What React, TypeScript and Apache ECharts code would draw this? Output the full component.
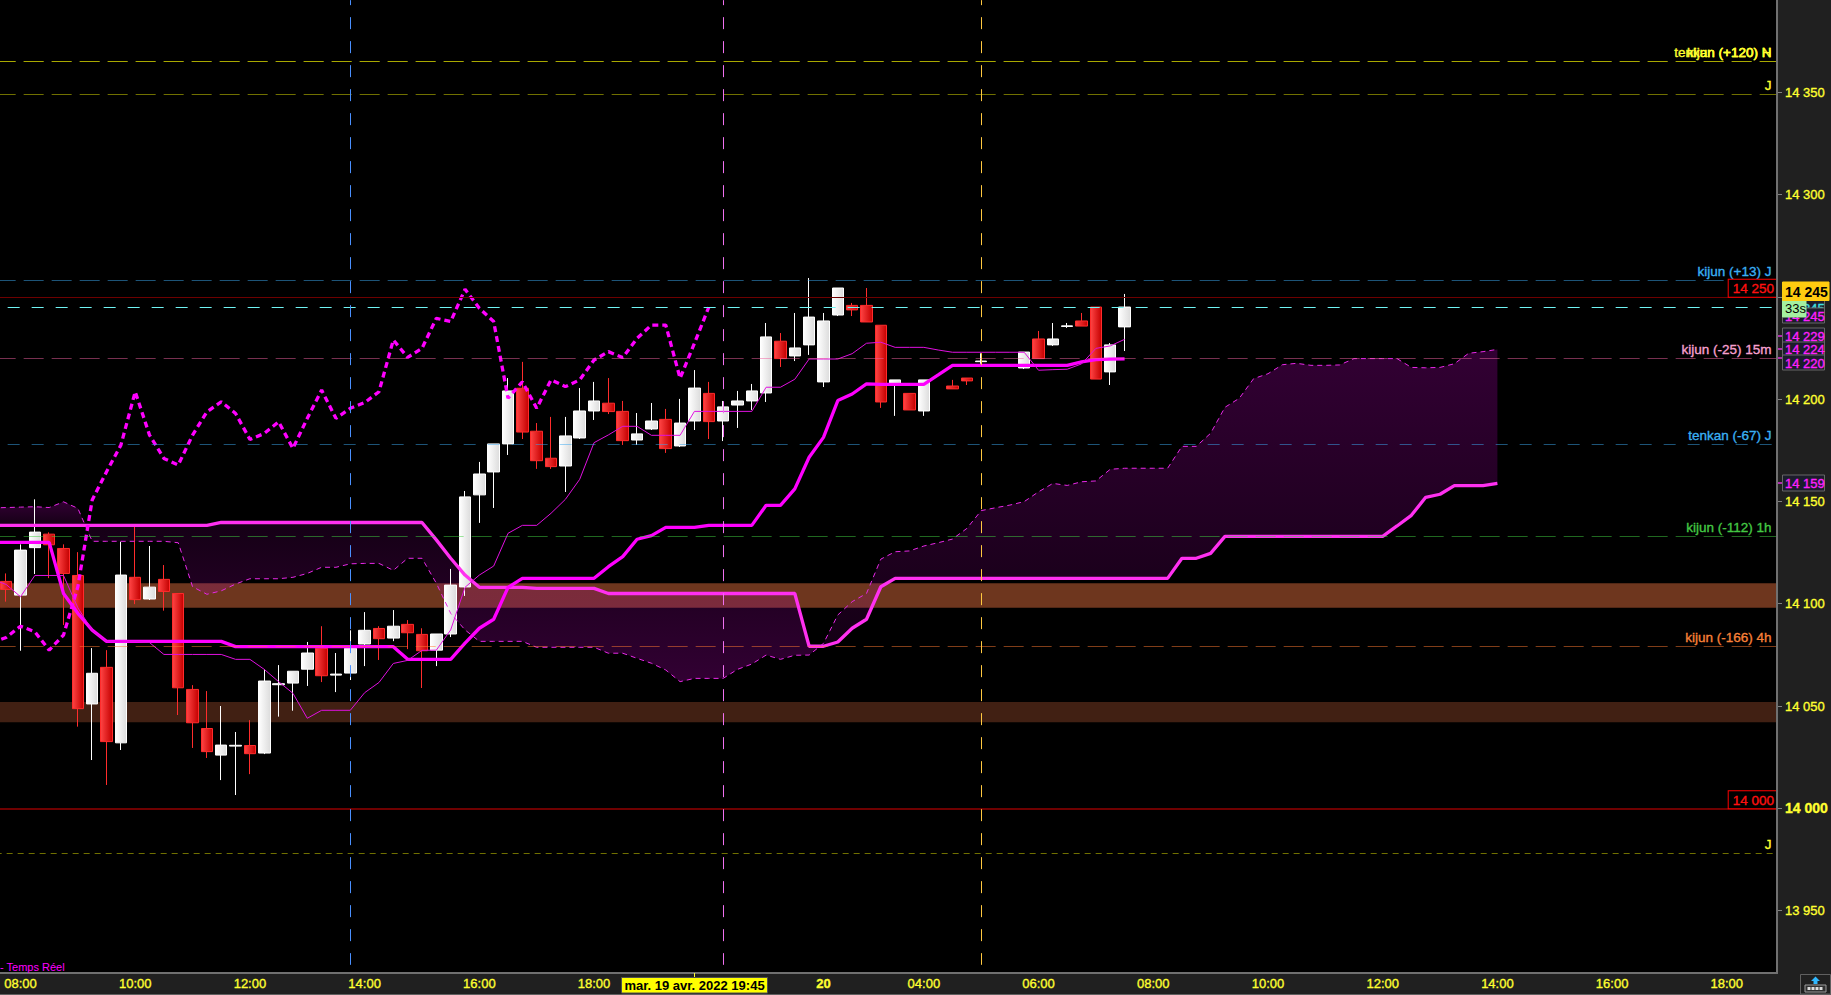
import React, { useEffect, useRef } from "react";
import * as echarts from "echarts";

const FONT = '"Liberation Sans", Arial, sans-serif';
const BAR_SLOTS = 125;
const SHIFT = 1; // one slot left of the window so that the lines run to the left edge
const PAGE_X = 16;

// axis tick labels by bar index (15-minute bars)
const tickBars = [1, 9, 17, 25, 33, 41, 49, 57, 64, 72, 80, 88, 96, 104, 112, 120];
const tickTexts = ["08:00", "10:00", "12:00", "14:00", "16:00", "18:00", "20:00", "20", "04:00", "06:00", "08:00", "10:00", "12:00", "14:00", "16:00", "18:00"];
const hiddenTickBar = 49;
const priceTicks = [13950, 14000, 14050, 14100, 14150, 14200, 14250, 14300, 14350];

const openValues = [14110.9,14104.2,14127.4,14134,14127,14113.8,14051,14068.9,14032,14112.9,14102.3,14111.9,14105,14058.1,14039,14026,14030.4,14030.7,14027,14060.4,14061.2,14068,14078.2,14065.1,14066.1,14080.3,14087.9,14083.2,14089.9,14085,14077.3,14085.2,14108.2,14153.2,14164.4,14178.1,14205.3,14184.3,14171.1,14167.3,14181,14194.2,14198,14194,14180,14185.4,14190.1,14177.1,14189.3,14202.8,14189.3,14197.1,14199.1,14203,14228.3,14221.1,14226.5,14208.4,14241.1,14245.8,14245.8,14236.1,14207.6,14202.8,14194.2,null,14206.4,14210.3,14218.3,null,null,14215.2,14229.4,14226.5,14235.5,14238.2,14245,14213.3,14235.3];
const closeValues = [14107,14126.2,14135,14128.8,14114.8,14048.7,14066,14032.6,14114,14102,14108.1,14106,14058.9,14041.8,14027.7,14030.9,14030.8,14026.7,14062.2,14060.9,14067,14075.9,14064.8,14065.6,14078.2,14087,14082.9,14089,14085.8,14077,14085.2,14109.1,14152.2,14163.4,14178.1,14204,14183.9,14169.9,14167,14182,14194.2,14199.1,14193.9,14179.7,14183,14189.3,14175.8,14188.3,14205.4,14189,14196.2,14199.1,14204,14230.4,14219.8,14225,14240.1,14238.2,14254.3,14243.6,14237.7,14198.6,14209.4,14194.7,14209.4,null,14205,14208.9,14218.6,null,null,14223,14219.8,14229.4,14235.8,14235.7,14209.8,14226.5,14245];
const lowValues = [14101,14077,14114.5,14112.5,14089.6,14039.9,14023.6,14011.4,14028.5,14099.8,14101.8,14096.6,14045.6,14029.5,14024.6,14013.8,14006.5,14016.7,14026.5,14044.8,14047.7,14059.8,14061.7,14056.8,14062.7,14069.5,14072.5,14081.7,14077.8,14058.8,14069.5,14083.7,14103.8,14139.5,14146.8,14172.7,14180.5,14165.9,14165.9,14154.6,14180.5,14189.8,14192.7,14177.6,14177.6,14184.9,14173.7,14176.6,14184.9,14180.5,14179.5,14185.9,14194.7,14198.6,14215.7,14218.6,14221.6,14205.9,14240.6,14240.6,14237.7,14195.7,14191.8,14194.7,14191.8,null,14205,14206.9,14217.2,null,null,14214.7,14219.8,14226,14234.8,14235.7,14209.8,14206.9,14223.5];
const highValues = [14114.8,14129,14151,14134.9,14129,14125.2,14078.3,14077.3,14130.3,14137.6,14128.2,14118.9,14105,14060.2,14057.3,14050,14037.3,14043.1,14067.9,14070,14067,14081.3,14089,14075.9,14087,14095.9,14089,14096.9,14092,14088,14085.2,14117,14155.1,14169.3,14178.1,14210.3,14218.2,14188.3,14191.3,14191.3,14205.4,14208.4,14210.3,14199.1,14193.2,14198.1,14195.2,14200.1,14214.2,14208.4,14199.1,14204,14207.4,14237.2,14232.3,14242.1,14259.2,14242.1,14254.3,14247,14254.3,14236.1,14209.4,14202.8,14209.4,null,14209.4,14210.3,14222.4,null,null,14223,14233.3,14237.2,14237.2,14242.1,14245,14227.4,14251.4];

const tenkanValues = [14112,14109.4,14103.4,14113.8,14113.8,14113.8,14098,14087,14081.6,14081.6,14081.6,14081,14075.2,14075.2,14075.2,14075.2,14075.2,14072.8,14072.8,14067.9,14061.9,14056.2,14044,14047.9,14047.9,14047.9,14056.5,14061.5,14070.8,14072.3,14077.2,14077.3,14087.2,14108,14114,14118.4,14134.4,14138.3,14138.3,14144.2,14151,14160.8,14178.7,14182.5,14186.7,14186.7,14182.3,14182.3,14182.3,14194,14194,14194,14194,14194,14205.8,14205.8,14209.7,14219.6,14219.6,14219.6,14222.2,14227.3,14227.8,14225.3,14225.3,14225.3,14224,14222.9,14222.9,14222.9,14222.9,14222.9,14222.9,14214.1,14214.4,14214.6,14217.2,14224.8,14226,14229.2];
const kijunValues = [14130,14130,14130,14130,14130,14105,14095.3,14087.1,14081.6,14081.6,14081.6,14081.6,14081.6,14081.6,14081.6,14081.6,14081.6,14079,14079,14079,14079,14079,14079,14079,14079,14079,14079,14079,14079,14072.8,14072.8,14072.8,14072.8,14080.7,14088,14092.4,14108,14112.4,14112.4,14112.4,14112.4,14112.4,14112.4,14118.1,14123,14131.5,14133.3,14137.3,14137.3,14137.3,14138.3,14138.3,14138.3,14138.3,14148.1,14148.1,14156.1,14171.6,14181.3,14199.3,14202.5,14207.4,14207.2,14207.2,14207.2,14207.2,14211.8,14216.5,14216.5,14216.5,14216.5,14216.5,14216.5,14216.5,14216.5,14216.5,14218.2,14219.3,14219.5,14219.7];
const chikouValues = [14081,14083.5,14089,14086.3,14077.3,14084.7,14108.3,14150.7,14164.5,14177.5,14203.6,14182.4,14171,14167.8,14182.4,14193.8,14198.7,14193,14180.3,14183.2,14188.9,14175.9,14190.6,14204.4,14190.6,14195.5,14198.3,14203.6,14228.9,14220.4,14224.8,14239.5,14237.9,14253.7,14244.4,14237.9,14200.4,14208.5,14195.5,14209.4,14206.1,14209.4,14219.1,14223.2,14220.3,14229.7,14236.2,14236.2,14210.2,14227.3,14244.9];
const senkouAValues = [14146.8,14147,14147.2,14147.4,14147,14149.8,14146.6,14130.5,14130.5,14130.5,14130.5,14130.5,14130.5,14129.8,14108.3,14104.6,14106.3,14109.6,14112.2,14112.2,14112.2,14112.9,14114.8,14117.8,14117.8,14119.5,14119.7,14119.7,14116.3,14122.2,14122.2,14110,14095.3,14087.2,14081.6,14081.6,14081.6,14081.6,14078.7,14078.7,14078.7,14078.7,14078.7,14075.8,14075.8,14073.3,14070.9,14067.6,14061.9,14063.5,14063.5,14063.5,14067.9,14070.5,14074.9,14072.8,14074.8,14074.9,14080.6,14094.5,14101,14105,14121.8,14125.4,14125.8,14128.2,14129.8,14131.6,14136.8,14145.5,14146.9,14148.2,14149.9,14154.7,14158.8,14157.8,14159.6,14160,14165.7,14166.2,14166.2,14166.2,14166.2,14176.9,14176.9,14183.3,14196,14200.4,14210,14212.4,14216.8,14217.5,14216.5,14216.5,14216.7,14219.8,14219.8,14219.8,14219.8,14215.5,14215.3,14215.5,14217.3,14222.4,14223.2,14224.3];
const senkouBValues = [14138.3,14138.3,14138.3,14138.3,14138.3,14138.3,14138.3,14138.3,14138.3,14138.3,14138.3,14138.3,14138.3,14138.3,14138.3,14138.3,14139.7,14139.7,14139.7,14139.7,14139.7,14139.7,14139.7,14139.7,14139.7,14139.7,14139.7,14139.7,14139.7,14139.7,14139.7,14131.2,14122.2,14114,14108,14108,14108,14108,14107.5,14107.5,14107.5,14107.5,14107.5,14105,14105,14105,14105,14105,14105,14105,14105,14105,14105,14105,14105,14105,14105,14079.2,14079.2,14081.3,14088,14092.4,14108.3,14112.4,14112.4,14112.4,14112.4,14112.4,14112.4,14112.4,14112.4,14112.4,14112.4,14112.4,14112.4,14112.4,14112.4,14112.4,14112.4,14112.4,14112.4,14112.4,14112.4,14122.2,14122.2,14124.6,14132.9,14132.9,14132.9,14132.9,14132.9,14132.9,14132.9,14132.9,14132.9,14132.9,14132.9,14132.9,14138,14143.2,14152,14153.5,14157.7,14157.7,14157.7,14158.8];

const levelValues = [14365, 14365, 14349, 14258, 14250, 14245, 14220, 14178, 14133, 14079, 14000, 13978];
const levelLabels = ["tenkan (+120) H", "kijun (+120) N", "J", "kijun (+13) J", "14 250", "", "kijun (-25) 15m", "tenkan (-67) J", "kijun (-112) 1h", "kijun (-166) 4h", "14 000", "J"];
const bandRanges = [[14110, 14098], [14052, 14042]];
const crosshairBars = [24, 50, 68];
const tagTexts = ["14 245", "14 245", "14 229", "14 224", "14 220", "14 159"];
const lastPrice = "14 245";
const countdown = "33s";
const cursorDate = "mar. 19 avr. 2022 19:45";
const feedLabel = "- Temps Réel";

const categories = Array.from({ length: BAR_SLOTS }, (_, slot) => {
  const t = tickBars.indexOf(slot - SHIFT);
  return t >= 0 ? tickTexts[t] : String(slot - SHIFT);
});
const candleData = ["-", ...openValues.map((o, i) =>
  o === null ? "-" : [o, closeValues[i], lowValues[i], highValues[i]]
)];

const LONG = { d: [20, 8], off: 16.66 };
const SHORT = { d: [12, 12], off: 0.66 };
const levelStyles = [
  { c: "#e0e000", ...LONG, lc: "#ffff30", o: 0.5 },
  { c: "#e0e000", ...LONG, lc: "#ffff30", o: 0.5 },
  { c: "#e0e000", ...LONG, lc: "#ffff30", o: 0.5 },
  { c: "#3aa8f0", ...LONG, lc: "#3ab0f4", o: 0.5 },
  { c: "#6e0000", d: "solid", lc: "#ff1010", box: true, o: 1, w: 1 },
  { c: "#70f4f4", ...SHORT, lc: "#90ffff", o: 1 },
  { c: "#f060a0", ...LONG, lc: "#f8a0d0", o: 0.5 },
  { c: "#3aa8f0", ...SHORT, lc: "#3ab0f4", o: 0.5 },
  { c: "#40d040", ...LONG, lc: "#44c844", o: 0.5 },
  { c: "#ff7a30", ...LONG, lc: "#f88038", o: 0.5 },
  { c: "#6e0000", d: "solid", lc: "#ff1010", box: true, w: 2, o: 1 },
  { c: "#e0e000", d: [6, 5], off: 0, lc: "#ffff30", o: 0.5 },
];
const crossColors = ["#4a90ff", "#f070f0", "#ffc840"];

function cloudItem(params: any, api: any) {
  const pts = (vals: number[]) => vals.map((v, i) => api.coord([i, v]));
  const pa = pts(senkouAValues);
  const pb = pts(senkouBValues);
  const diff = senkouAValues.map((a, i) => a - senkouBValues[i]);
  const mix = (p: number[], q: number[], t: number) => [p[0] + (q[0] - p[0]) * t, p[1] + (q[1] - p[1]) * t];
  const pieces: { pts: number[][]; aTop: boolean }[] = [];
  let upper: number[][] = [pa[0]];
  let lower: number[][] = [pb[0]];
  for (let i = 1; i < diff.length; i++) {
    if (diff[i - 1] * diff[i] < 0) {
      const t = diff[i - 1] / (diff[i - 1] - diff[i]);
      const x = mix(pa[i - 1], pa[i], t);
      upper.push(x);
      pieces.push({ pts: upper.concat(lower.slice().reverse()), aTop: diff[i - 1] > 0 });
      upper = [x];
      lower = [];
    }
    upper.push(pa[i]);
    lower.push(pb[i]);
  }
  pieces.push({ pts: upper.concat(lower.slice().reverse()), aTop: diff[diff.length - 1] > 0 });
  const piece = pieces[params.dataIndex];
  if (!piece) return null;
  const bright = "rgba(172,0,176,0.29)";
  const dark = "rgba(172,0,176,0.12)";
  return {
    type: "polygon",
    shape: { points: piece.pts },
    style: {
      fill: new echarts.graphic.LinearGradient(0, 0, 0, 1, [
        { offset: 0, color: piece.aTop ? bright : dark },
        { offset: 1, color: piece.aTop ? dark : bright },
      ]),
    },
  };
}

function buildOption() {
  const tagLayout = [
    { y: 300, h: 15, c: "#40e0e0" },
    { y: 308, h: 15, c: "#ff20ff" },
    { y: 328, h: 15, c: "#ff20ff" },
    { y: 342, h: 14, c: "#ff20ff" },
    { y: 355, h: 15, c: "#ff20ff" },
    { y: 475, h: 16, c: "#ff20ff" },
  ];
  const T = (x: number, y: number, text: string, fill: string, font: string, align = "left", z = 20, thick = 0) => ({
    type: "text", x, y, z, silent: true,
    style: { text, fill, font, textAlign: align, textVerticalAlign: "middle", ...(thick ? { stroke: fill, lineWidth: thick } : {}) },
  });
  const R = (x: number, y: number, width: number, height: number, fill: string, stroke?: string, z = 20) => ({
    type: "rect", z, silent: true, shape: { x, y, width, height },
    style: { fill, stroke: stroke ?? "none", lineWidth: 1 },
  });
  const L = (x1: number, y1: number, x2: number, y2: number, stroke: string, lineWidth = 1, z = 20) => ({
    type: "line", z, silent: true, shape: { x1, y1, x2, y2 }, style: { stroke, lineWidth },
  });
  const tagTicks = [336, 349, 358, 483];
  const graphicEls: any[] = [
    R(1777, 0, 54, 995, "#202020", undefined, 0),
    R(-16, 973, 1847, 41, "#202020", undefined, 0),
    L(1777, 0, 1777, 974, "#707070", 2, 11),
    L(0, 994.5, 1831, 994.5, "#606060", 1, 11),
    ...tagTicks.map((y) => L(1778, y, 1783, y, "#e030e0", 1.5, 21)),
    ...tagTexts.map((t, i) => ({
      type: "group",
      z: 20,
      children: [
        R(1782.5, tagLayout[i].y, 42, tagLayout[i].h, "#1c1c2c", "#666666", 21 + i),
        T(1785, tagLayout[i].y + tagLayout[i].h / 2 + 0.5, t, tagLayout[i].c, `13px ${FONT}`, "left", 21 + i, 0.35),
      ],
    })),
    R(1782.5, 300, 23.5, 17, "#a4f0a0", "#a4f0a0", 28),
    T(1785, 308.5, countdown, "#000000", `13px ${FONT}`, "left", 29),
    R(1782.5, 282, 46.5, 18.5, "#ffcc10", "#ffcc10", 30),
    T(1785, 291.5, lastPrice, "#000000", `bold 14px ${FONT}`, "left", 31),
    T(0, 967, feedLabel, "#ff00ff", `11px ${FONT}`),
    L(694.5, 973, 694.5, 978, "#ffff30", 1, 11),
    R(621.5, 977.5, 146, 15.5, "#ffff00", "#505050", 20),
    T(694.5, 985.5, cursorDate, "#000000", `bold 13px ${FONT}`, "center", 21),
    R(1800.5, 974.5, 30, 19.5, "#202020", "#606060", 20),
    { type: "polygon", z: 21, silent: true, shape: { points: [[1815.5, 976.5], [1820, 981], [1817.5, 981], [1817.5, 984], [1813.5, 984], [1813.5, 981], [1811, 981]] }, style: { fill: "#30b8ff" } },
    R(1805, 985, 21, 7, "#303030", "#9a9a9a", 21),
    ...[1807.5, 1811.5, 1815.5, 1819.5].map((x) => R(x, 987, 3, 3, "#dddddd", undefined, 22)),
  ];

  const hLines = levelValues.map((v, i) => {
    const s: any = levelStyles[i];
    return {
      yAxis: v,
      lineStyle: { color: s.c, type: s.d, dashOffset: s.off ?? 0, width: s.w ?? 1, opacity: s.o },
      label: levelLabels[i]
        ? {
            show: true,
            formatter: levelLabels[i],
            position: "insideEndTop",
            color: s.lc,
            opacity: 1,
            fontFamily: FONT,
            fontSize: 13.5,
            textBorderColor: s.lc,
            textBorderWidth: 0.35,
            distance: s.box ? [0, 0] : [5.5, 2],
            ...(s.box
              ? { backgroundColor: "#000000", borderColor: "#ff0000", borderWidth: 1, padding: [2, 3, 1, 4] }
              : {}),
          }
        : { show: false },
    };
  });
  const vLines = crosshairBars.map((b, i) => [
    { xAxis: b + SHIFT, yAxis: 14395, lineStyle: { color: crossColors[i], type: [12, 12], dashOffset: 7, width: 1, opacity: 1 }, label: { show: false } },
    { xAxis: b + SHIFT, yAxis: 13923.5 },
  ]);
  const tickSlots = tickBars.map((b) => b + SHIFT);

  return {
    animation: false,
    backgroundColor: "#000000",
    graphic: { elements: [{ type: "group", x: PAGE_X, y: 0, children: graphicEls }] },
    grid: { left: 0.66, width: 1792.34, top: 0, height: 1012.9, containLabel: false },
    xAxis: {
      type: "category",
      data: categories,
      boundaryGap: true,
      offset: -39.9,
      z: 10,
      axisLine: { onZero: false, lineStyle: { color: "#707070", width: 2 } },
      axisTick: {
        alignWithLabel: true,
        length: 3,
        interval: (i: number) => tickSlots.includes(i),
        lineStyle: { color: "#808080" },
      },
      axisLabel: {
        interval: (i: number) => tickSlots.includes(i) && i !== hiddenTickBar + SHIFT,
        color: "#ffff30",
        fontFamily: FONT,
        fontSize: 13,
        margin: 4,
        hideOverlap: false,
        textBorderColor: "#ffff30",
        textBorderWidth: 0.35,
        formatter: (v: string) => (v === "20" ? "{b|20}" : v),
        rich: { b: { fontFamily: FONT, fontSize: 13, fontWeight: "bold", color: "#ffff30" } },
      },
      splitLine: { show: false },
    },
    yAxis: {
      type: "value",
      position: "right",
      min: 13900,
      max: 14395.07,
      interval: 50,
      z: 10,
      axisLine: { show: false },
      axisTick: { show: true, length: 5, customValues: priceTicks, lineStyle: { color: "#808080" } },
      axisLabel: {
        customValues: priceTicks,
        color: "#ffff30",
        fontFamily: FONT,
        fontSize: 13,
        margin: 8,
        textBorderColor: "#ffff30",
        textBorderWidth: 0.35,
        formatter: (v: number) => {
          const s = String(v);
          const t = `${s.slice(0, 2)} ${s.slice(2)}`;
          return v === 14000 ? `{b|${t}}` : t;
        },
        rich: { b: { fontFamily: FONT, fontSize: 14, fontWeight: "bold", color: "#ffff30" } },
      },
      splitLine: { show: false },
    },
    series: [
      {
        name: "nuage",
        type: "custom",
        coordinateSystem: "cartesian2d",
        z: 2,
        silent: true,
        renderItem: cloudItem,
        encode: { x: 0, y: 1 },
        data: [[0, 14140], [30, 14100], [80, 14150]],
      },
      {
        name: "prix",
        type: "candlestick",
        z: 3,
        barWidth: 12,
        silent: true,
        itemStyle: {
          color: new echarts.graphic.LinearGradient(0, 0, 1, 0, [
            { offset: 0, color: "#ffffff" },
            { offset: 1, color: "#dcdcdc" },
          ]),
          color0: new echarts.graphic.LinearGradient(0, 0, 1, 0, [
            { offset: 0, color: "#ff4444" },
            { offset: 1, color: "#c40000" },
          ]),
          borderColor: "#ffffff",
          borderColor0: "#ff2c2c",
          borderWidth: 1,
        },
        data: candleData,
      },
      {
        name: "senkou B",
        type: "line",
        z: 4,
        symbol: "none",
        silent: true,
        lineStyle: { color: "#ff30f0", width: 3.3 },
        data: senkouBValues,
      },
      {
        name: "senkou A",
        type: "line",
        z: 4,
        symbol: "none",
        silent: true,
        lineStyle: { color: "#e828e8", width: 1, type: [5, 4] },
        data: senkouAValues,
      },
      {
        name: "chikou",
        type: "line",
        z: 4,
        symbol: "none",
        silent: true,
        lineStyle: { color: "#ff00ff", width: 3.3, type: [6, 4] },
        data: chikouValues,
      },
      {
        name: "kijun",
        type: "line",
        z: 4,
        symbol: "none",
        silent: true,
        lineStyle: { color: "#ff00ff", width: 3.3 },
        data: kijunValues,
      },
      {
        name: "tenkan",
        type: "line",
        z: 4,
        symbol: "none",
        silent: true,
        lineStyle: { color: "#e010e0", width: 1 },
        data: tenkanValues,
        markArea: {
          silent: true,
          z: 1,
          itemStyle: { opacity: 1 },
          data: [
            [{ yAxis: bandRanges[0][0], itemStyle: { color: "#6e361e" } }, { yAxis: bandRanges[0][1] }],
            [{ yAxis: bandRanges[1][0], itemStyle: { color: "#412013" } }, { yAxis: bandRanges[1][1] }],
          ],
        },
        markLine: {
          silent: true,
          symbol: ["none", "none"],
          z: 5,
          data: [...hLines, ...vLines],
        },
      },
    ],
  };
}

export default function App() {
  const ref = useRef<HTMLDivElement>(null);
  useEffect(() => {
    document.body.style.margin = "0";
    document.documentElement.style.overflow = "hidden";
    const chart = echarts.init(ref.current!, undefined, { renderer: "svg" });
    chart.setOption(buildOption() as any);
    return () => chart.dispose();
  }, []);
  return (
    <div style={{ position: "relative", width: 1831, height: 995, overflow: "hidden", background: "#000" }}>
      <div ref={ref} style={{ position: "absolute", left: -PAGE_X, top: 0, width: 1831 + PAGE_X, height: 1014 }} />
    </div>
  );
}
